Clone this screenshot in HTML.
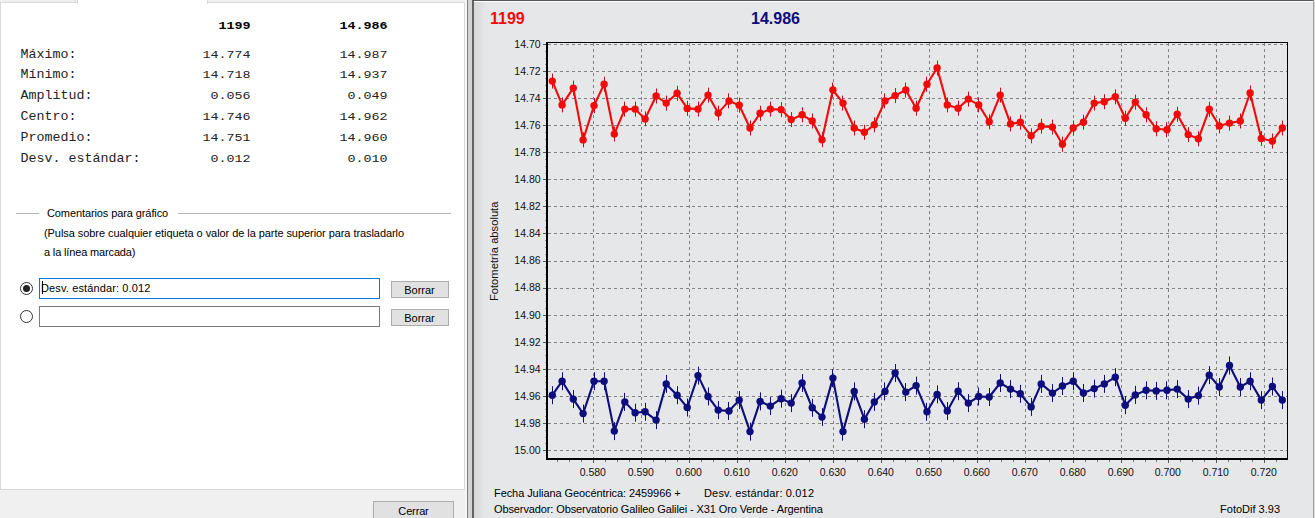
<!DOCTYPE html>
<html lang="es">
<head>
<meta charset="utf-8">
<title>FotoDif 3.93</title>
<style>
html,body{margin:0;padding:0}
body{width:1315px;height:518px;overflow:hidden;background:#f0f0f0;position:relative;font-family:"Liberation Sans",Arial,sans-serif;color:#000}
div,span{box-sizing:border-box}
.abs,.mono,.ui{position:absolute;white-space:nowrap}
.mono{font-family:"Liberation Mono","Courier New",monospace;font-size:13.33px;line-height:16px;color:#222;transform-origin:0 11.5px;transform:scaleY(0.89)}
.b{font-weight:bold;color:#000;transform:scaleY(0.75)}
.v{transform:scaleY(0.84)}
.ui{font-family:"Liberation Sans",Arial,sans-serif;font-size:11px;line-height:14px;color:#000}
.btn{position:absolute;background:#e1e1e1;border:1px solid #adadad;text-align:center;font-size:11px}
</style>
</head>
<body>
<!-- left tab pane -->
<div class="abs" style="left:0;top:2px;width:465px;height:488px;background:#fff;border:1px solid #d9d9d9"></div>
<div class="abs" style="left:77px;top:0;width:131px;height:4px;background:#fff;border-left:1px solid #d9d9d9;border-right:1px solid #d9d9d9"></div>
<div class="abs" style="left:0;top:0;width:76px;height:2px;background:#efefef;border-right:1px solid #dcdcdc"></div>
<div class="mono b" style="left:170.5px;top:17.6px;width:80px;text-align:right">1199</div>
<div class="mono b" style="left:307.5px;top:17.6px;width:80px;text-align:right">14.986</div>
<div class="mono" style="left:20.6px;top:47px">Máximo:</div>
<div class="mono v" style="left:170.5px;top:47px;width:80px;text-align:right">14.774</div>
<div class="mono v" style="left:307.5px;top:47px;width:80px;text-align:right">14.987</div>
<div class="mono" style="left:20.6px;top:67px">Mínimo:</div>
<div class="mono v" style="left:170.5px;top:67px;width:80px;text-align:right">14.718</div>
<div class="mono v" style="left:307.5px;top:67px;width:80px;text-align:right">14.937</div>
<div class="mono" style="left:20.6px;top:87.8px">Amplitud:</div>
<div class="mono v" style="left:170.5px;top:87.8px;width:80px;text-align:right">0.056</div>
<div class="mono v" style="left:307.5px;top:87.8px;width:80px;text-align:right">0.049</div>
<div class="mono" style="left:20.6px;top:108.9px">Centro:</div>
<div class="mono v" style="left:170.5px;top:108.9px;width:80px;text-align:right">14.746</div>
<div class="mono v" style="left:307.5px;top:108.9px;width:80px;text-align:right">14.962</div>
<div class="mono" style="left:20.6px;top:130px">Promedio:</div>
<div class="mono v" style="left:170.5px;top:130px;width:80px;text-align:right">14.751</div>
<div class="mono v" style="left:307.5px;top:130px;width:80px;text-align:right">14.960</div>
<div class="mono" style="left:20.6px;top:150.8px">Desv. estándar:</div>
<div class="mono v" style="left:170.5px;top:150.8px;width:80px;text-align:right">0.012</div>
<div class="mono v" style="left:307.5px;top:150.8px;width:80px;text-align:right">0.010</div>
<!-- group: comentarios -->
<div class="abs" style="left:16px;top:213px;width:23px;height:1px;background:#b4b4b4"></div>
<div class="abs" style="left:178px;top:213px;width:273px;height:1px;background:#b4b4b4"></div>
<div class="ui" id="t1" style="letter-spacing:-0.10px;left:47px;top:206px">Comentarios para gráfico</div>
<div class="ui" id="t2" style="letter-spacing:-0.065px;left:44px;top:226px">(Pulsa sobre cualquier etiqueta o valor de la parte superior para trasladarlo</div>
<div class="ui" id="t3" style="letter-spacing:-0.15px;left:44px;top:245px">a la línea marcada)</div>
<!-- radios -->
<div class="abs" style="left:20px;top:282px;width:13px;height:13px;border-radius:50%;border:1px solid #333;background:#fff"></div>
<div class="abs" style="left:23px;top:285px;width:7px;height:7px;border-radius:50%;background:#222"></div>
<div class="abs" style="left:20px;top:310px;width:13px;height:13px;border-radius:50%;border:1px solid #333;background:#fff"></div>
<!-- inputs -->
<div class="abs" style="left:39px;top:278px;width:341px;height:21px;border:1px solid #0078d7;background:#fff"></div>
<div class="abs" style="left:42px;top:281px;width:1px;height:13px;background:#000"></div>
<div class="ui" id="t4" style="letter-spacing:0.13px;left:41px;top:281px">Desv. estándar: 0.012</div>
<div class="abs" style="left:39px;top:306px;width:341px;height:21px;border:1px solid #7a7a7a;background:#fff"></div>
<!-- buttons -->
<div class="btn ui" style="left:391px;top:281px;width:58px;height:17px;line-height:16px;padding-right:1px">Borrar</div>
<div class="btn ui" style="left:391px;top:309px;width:58px;height:17px;line-height:16px;padding-right:1px">Borrar</div>
<div class="btn ui" style="left:373px;top:501px;width:81px;height:23px;line-height:19px;letter-spacing:-0.15px">Cerrar</div>
<!-- splitter -->
<div class="abs" style="left:465px;top:0;width:2px;height:518px;background:#f6f6f6"></div>
<div class="abs" style="left:467px;top:0;width:1px;height:518px;background:#7c7c7c"></div>
<div class="abs" style="left:468px;top:0;width:4px;height:518px;background:#d3d3d3"></div>
<div class="abs" style="left:472px;top:0;width:2px;height:518px;background:#626262"></div>
<!-- chart panel -->
<div class="abs" style="left:474px;top:0;width:839px;height:518px;background:#e6e7e9"></div>
<div class="abs" style="left:474px;top:0;width:12px;height:518px;background:linear-gradient(to right,#d8d8d8,#e6e7e9)"></div>
<div class="abs" style="left:472px;top:0;width:842px;height:1px;background:#58595b"></div>
<div class="abs" style="left:474px;top:1px;width:839px;height:1px;background:#fff"></div>
<div class="abs" style="left:1313px;top:0;width:1px;height:518px;background:#a2a2a2"></div>
<div class="abs" style="left:1314px;top:0;width:1px;height:518px;background:#dcdcdc"></div>
<svg width="1315" height="518" viewBox="0 0 1315 518" style="position:absolute;left:0;top:0">
<g stroke="#828282" stroke-width="1" stroke-dasharray="3 3" fill="none" shape-rendering="crispEdges">
<line x1="548" y1="44.5" x2="1287" y2="44.5"/>
<line x1="548" y1="71.5" x2="1287" y2="71.5"/>
<line x1="548" y1="98.5" x2="1287" y2="98.5"/>
<line x1="548" y1="125.5" x2="1287" y2="125.5"/>
<line x1="548" y1="152.5" x2="1287" y2="152.5"/>
<line x1="548" y1="179.5" x2="1287" y2="179.5"/>
<line x1="548" y1="206.5" x2="1287" y2="206.5"/>
<line x1="548" y1="233.5" x2="1287" y2="233.5"/>
<line x1="548" y1="261.5" x2="1287" y2="261.5"/>
<line x1="548" y1="288.5" x2="1287" y2="288.5"/>
<line x1="548" y1="315.5" x2="1287" y2="315.5"/>
<line x1="548" y1="342.5" x2="1287" y2="342.5"/>
<line x1="548" y1="369.5" x2="1287" y2="369.5"/>
<line x1="548" y1="396.5" x2="1287" y2="396.5"/>
<line x1="548" y1="423.5" x2="1287" y2="423.5"/>
<line x1="548" y1="450.5" x2="1287" y2="450.5"/>
<line x1="593.5" y1="43" x2="593.5" y2="458"/>
<line x1="641.5" y1="43" x2="641.5" y2="458"/>
<line x1="689.5" y1="43" x2="689.5" y2="458"/>
<line x1="737.5" y1="43" x2="737.5" y2="458"/>
<line x1="785.5" y1="43" x2="785.5" y2="458"/>
<line x1="833.5" y1="43" x2="833.5" y2="458"/>
<line x1="881.5" y1="43" x2="881.5" y2="458"/>
<line x1="929.5" y1="43" x2="929.5" y2="458"/>
<line x1="977.5" y1="43" x2="977.5" y2="458"/>
<line x1="1025.5" y1="43" x2="1025.5" y2="458"/>
<line x1="1073.5" y1="43" x2="1073.5" y2="458"/>
<line x1="1121.5" y1="43" x2="1121.5" y2="458"/>
<line x1="1168.5" y1="43" x2="1168.5" y2="458"/>
<line x1="1216.5" y1="43" x2="1216.5" y2="458"/>
<line x1="1264.5" y1="43" x2="1264.5" y2="458"/>
</g>
<g fill="#000" shape-rendering="crispEdges">
<rect x="546" y="42" width="2" height="418"/>
<rect x="546" y="458" width="742" height="2"/>
<rect x="546" y="42" width="742" height="1"/>
<rect x="1287" y="42" width="1" height="418"/>
</g>
<g stroke="#555" stroke-width="1" shape-rendering="crispEdges">
<line x1="543" y1="44.5" x2="546" y2="44.5"/>
<line x1="543" y1="71.5" x2="546" y2="71.5"/>
<line x1="543" y1="98.5" x2="546" y2="98.5"/>
<line x1="543" y1="125.5" x2="546" y2="125.5"/>
<line x1="543" y1="152.5" x2="546" y2="152.5"/>
<line x1="543" y1="179.5" x2="546" y2="179.5"/>
<line x1="543" y1="206.5" x2="546" y2="206.5"/>
<line x1="543" y1="233.5" x2="546" y2="233.5"/>
<line x1="543" y1="261.5" x2="546" y2="261.5"/>
<line x1="543" y1="288.5" x2="546" y2="288.5"/>
<line x1="543" y1="315.5" x2="546" y2="315.5"/>
<line x1="543" y1="342.5" x2="546" y2="342.5"/>
<line x1="543" y1="369.5" x2="546" y2="369.5"/>
<line x1="543" y1="396.5" x2="546" y2="396.5"/>
<line x1="543" y1="423.5" x2="546" y2="423.5"/>
<line x1="543" y1="450.5" x2="546" y2="450.5"/>
<line x1="545" y1="51.5" x2="546" y2="51.5" stroke="#9a9a9a"/>
<line x1="545" y1="58.5" x2="546" y2="58.5" stroke="#9a9a9a"/>
<line x1="545" y1="64.5" x2="546" y2="64.5" stroke="#9a9a9a"/>
<line x1="545" y1="78.5" x2="546" y2="78.5" stroke="#9a9a9a"/>
<line x1="545" y1="85.5" x2="546" y2="85.5" stroke="#9a9a9a"/>
<line x1="545" y1="91.5" x2="546" y2="91.5" stroke="#9a9a9a"/>
<line x1="545" y1="105.5" x2="546" y2="105.5" stroke="#9a9a9a"/>
<line x1="545" y1="112.5" x2="546" y2="112.5" stroke="#9a9a9a"/>
<line x1="545" y1="118.5" x2="546" y2="118.5" stroke="#9a9a9a"/>
<line x1="545" y1="132.5" x2="546" y2="132.5" stroke="#9a9a9a"/>
<line x1="545" y1="139.5" x2="546" y2="139.5" stroke="#9a9a9a"/>
<line x1="545" y1="146.5" x2="546" y2="146.5" stroke="#9a9a9a"/>
<line x1="545" y1="159.5" x2="546" y2="159.5" stroke="#9a9a9a"/>
<line x1="545" y1="166.5" x2="546" y2="166.5" stroke="#9a9a9a"/>
<line x1="545" y1="173.5" x2="546" y2="173.5" stroke="#9a9a9a"/>
<line x1="545" y1="186.5" x2="546" y2="186.5" stroke="#9a9a9a"/>
<line x1="545" y1="193.5" x2="546" y2="193.5" stroke="#9a9a9a"/>
<line x1="545" y1="200.5" x2="546" y2="200.5" stroke="#9a9a9a"/>
<line x1="545" y1="213.5" x2="546" y2="213.5" stroke="#9a9a9a"/>
<line x1="545" y1="220.5" x2="546" y2="220.5" stroke="#9a9a9a"/>
<line x1="545" y1="227.5" x2="546" y2="227.5" stroke="#9a9a9a"/>
<line x1="545" y1="240.5" x2="546" y2="240.5" stroke="#9a9a9a"/>
<line x1="545" y1="247.5" x2="546" y2="247.5" stroke="#9a9a9a"/>
<line x1="545" y1="254.5" x2="546" y2="254.5" stroke="#9a9a9a"/>
<line x1="545" y1="267.5" x2="546" y2="267.5" stroke="#9a9a9a"/>
<line x1="545" y1="274.5" x2="546" y2="274.5" stroke="#9a9a9a"/>
<line x1="545" y1="281.5" x2="546" y2="281.5" stroke="#9a9a9a"/>
<line x1="545" y1="294.5" x2="546" y2="294.5" stroke="#9a9a9a"/>
<line x1="545" y1="301.5" x2="546" y2="301.5" stroke="#9a9a9a"/>
<line x1="545" y1="308.5" x2="546" y2="308.5" stroke="#9a9a9a"/>
<line x1="545" y1="321.5" x2="546" y2="321.5" stroke="#9a9a9a"/>
<line x1="545" y1="328.5" x2="546" y2="328.5" stroke="#9a9a9a"/>
<line x1="545" y1="335.5" x2="546" y2="335.5" stroke="#9a9a9a"/>
<line x1="545" y1="349.5" x2="546" y2="349.5" stroke="#9a9a9a"/>
<line x1="545" y1="355.5" x2="546" y2="355.5" stroke="#9a9a9a"/>
<line x1="545" y1="362.5" x2="546" y2="362.5" stroke="#9a9a9a"/>
<line x1="545" y1="376.5" x2="546" y2="376.5" stroke="#9a9a9a"/>
<line x1="545" y1="382.5" x2="546" y2="382.5" stroke="#9a9a9a"/>
<line x1="545" y1="389.5" x2="546" y2="389.5" stroke="#9a9a9a"/>
<line x1="545" y1="403.5" x2="546" y2="403.5" stroke="#9a9a9a"/>
<line x1="545" y1="409.5" x2="546" y2="409.5" stroke="#9a9a9a"/>
<line x1="545" y1="416.5" x2="546" y2="416.5" stroke="#9a9a9a"/>
<line x1="545" y1="430.5" x2="546" y2="430.5" stroke="#9a9a9a"/>
<line x1="545" y1="437.5" x2="546" y2="437.5" stroke="#9a9a9a"/>
<line x1="545" y1="443.5" x2="546" y2="443.5" stroke="#9a9a9a"/>
<line x1="557.5" y1="460" x2="557.5" y2="462" stroke="#777"/>
<line x1="569.5" y1="460" x2="569.5" y2="462" stroke="#777"/>
<line x1="581.5" y1="460" x2="581.5" y2="462" stroke="#777"/>
<line x1="593.5" y1="460" x2="593.5" y2="463"/>
<line x1="605.5" y1="460" x2="605.5" y2="462" stroke="#777"/>
<line x1="617.5" y1="460" x2="617.5" y2="462" stroke="#777"/>
<line x1="629.5" y1="460" x2="629.5" y2="462" stroke="#777"/>
<line x1="641.5" y1="460" x2="641.5" y2="463"/>
<line x1="653.5" y1="460" x2="653.5" y2="462" stroke="#777"/>
<line x1="665.5" y1="460" x2="665.5" y2="462" stroke="#777"/>
<line x1="677.5" y1="460" x2="677.5" y2="462" stroke="#777"/>
<line x1="689.5" y1="460" x2="689.5" y2="463"/>
<line x1="701.5" y1="460" x2="701.5" y2="462" stroke="#777"/>
<line x1="713.5" y1="460" x2="713.5" y2="462" stroke="#777"/>
<line x1="725.5" y1="460" x2="725.5" y2="462" stroke="#777"/>
<line x1="737.5" y1="460" x2="737.5" y2="463"/>
<line x1="749.5" y1="460" x2="749.5" y2="462" stroke="#777"/>
<line x1="761.5" y1="460" x2="761.5" y2="462" stroke="#777"/>
<line x1="773.5" y1="460" x2="773.5" y2="462" stroke="#777"/>
<line x1="785.5" y1="460" x2="785.5" y2="463"/>
<line x1="797.5" y1="460" x2="797.5" y2="462" stroke="#777"/>
<line x1="809.5" y1="460" x2="809.5" y2="462" stroke="#777"/>
<line x1="821.5" y1="460" x2="821.5" y2="462" stroke="#777"/>
<line x1="833.5" y1="460" x2="833.5" y2="463"/>
<line x1="845.5" y1="460" x2="845.5" y2="462" stroke="#777"/>
<line x1="857.5" y1="460" x2="857.5" y2="462" stroke="#777"/>
<line x1="869.5" y1="460" x2="869.5" y2="462" stroke="#777"/>
<line x1="881.5" y1="460" x2="881.5" y2="463"/>
<line x1="893.5" y1="460" x2="893.5" y2="462" stroke="#777"/>
<line x1="905.5" y1="460" x2="905.5" y2="462" stroke="#777"/>
<line x1="917.5" y1="460" x2="917.5" y2="462" stroke="#777"/>
<line x1="929.5" y1="460" x2="929.5" y2="463"/>
<line x1="941.5" y1="460" x2="941.5" y2="462" stroke="#777"/>
<line x1="953.5" y1="460" x2="953.5" y2="462" stroke="#777"/>
<line x1="965.5" y1="460" x2="965.5" y2="462" stroke="#777"/>
<line x1="977.5" y1="460" x2="977.5" y2="463"/>
<line x1="989.5" y1="460" x2="989.5" y2="462" stroke="#777"/>
<line x1="1001.5" y1="460" x2="1001.5" y2="462" stroke="#777"/>
<line x1="1013.5" y1="460" x2="1013.5" y2="462" stroke="#777"/>
<line x1="1025.5" y1="460" x2="1025.5" y2="463"/>
<line x1="1037.5" y1="460" x2="1037.5" y2="462" stroke="#777"/>
<line x1="1049.5" y1="460" x2="1049.5" y2="462" stroke="#777"/>
<line x1="1061.5" y1="460" x2="1061.5" y2="462" stroke="#777"/>
<line x1="1073.5" y1="460" x2="1073.5" y2="463"/>
<line x1="1085.5" y1="460" x2="1085.5" y2="462" stroke="#777"/>
<line x1="1097.5" y1="460" x2="1097.5" y2="462" stroke="#777"/>
<line x1="1109.5" y1="460" x2="1109.5" y2="462" stroke="#777"/>
<line x1="1121.5" y1="460" x2="1121.5" y2="463"/>
<line x1="1133.5" y1="460" x2="1133.5" y2="462" stroke="#777"/>
<line x1="1145.5" y1="460" x2="1145.5" y2="462" stroke="#777"/>
<line x1="1156.5" y1="460" x2="1156.5" y2="462" stroke="#777"/>
<line x1="1168.5" y1="460" x2="1168.5" y2="463"/>
<line x1="1180.5" y1="460" x2="1180.5" y2="462" stroke="#777"/>
<line x1="1192.5" y1="460" x2="1192.5" y2="462" stroke="#777"/>
<line x1="1204.5" y1="460" x2="1204.5" y2="462" stroke="#777"/>
<line x1="1216.5" y1="460" x2="1216.5" y2="463"/>
<line x1="1228.5" y1="460" x2="1228.5" y2="462" stroke="#777"/>
<line x1="1240.5" y1="460" x2="1240.5" y2="462" stroke="#777"/>
<line x1="1252.5" y1="460" x2="1252.5" y2="462" stroke="#777"/>
<line x1="1264.5" y1="460" x2="1264.5" y2="463"/>
<line x1="1276.5" y1="460" x2="1276.5" y2="462" stroke="#777"/>
</g>
<g font-family="'Liberation Sans', Arial, sans-serif" font-size="10.5px" fill="#111">
<text x="540.6" y="47.8" text-anchor="end">14.70</text>
<text x="540.6" y="74.9" text-anchor="end">14.72</text>
<text x="540.6" y="101.9" text-anchor="end">14.74</text>
<text x="540.6" y="129.0" text-anchor="end">14.76</text>
<text x="540.6" y="156.1" text-anchor="end">14.78</text>
<text x="540.6" y="183.2" text-anchor="end">14.80</text>
<text x="540.6" y="210.2" text-anchor="end">14.82</text>
<text x="540.6" y="237.3" text-anchor="end">14.84</text>
<text x="540.6" y="264.4" text-anchor="end">14.86</text>
<text x="540.6" y="291.4" text-anchor="end">14.88</text>
<text x="540.6" y="318.5" text-anchor="end">14.90</text>
<text x="540.6" y="345.6" text-anchor="end">14.92</text>
<text x="540.6" y="372.6" text-anchor="end">14.94</text>
<text x="540.6" y="399.7" text-anchor="end">14.96</text>
<text x="540.6" y="426.8" text-anchor="end">14.98</text>
<text x="540.6" y="453.9" text-anchor="end">15.00</text>
<text x="592.8" y="475.7" text-anchor="middle">0.580</text>
<text x="640.8" y="475.7" text-anchor="middle">0.590</text>
<text x="688.8" y="475.7" text-anchor="middle">0.600</text>
<text x="736.8" y="475.7" text-anchor="middle">0.610</text>
<text x="784.8" y="475.7" text-anchor="middle">0.620</text>
<text x="832.8" y="475.7" text-anchor="middle">0.630</text>
<text x="880.8" y="475.7" text-anchor="middle">0.640</text>
<text x="928.8" y="475.7" text-anchor="middle">0.650</text>
<text x="976.8" y="475.7" text-anchor="middle">0.660</text>
<text x="1024.8" y="475.7" text-anchor="middle">0.670</text>
<text x="1072.8" y="475.7" text-anchor="middle">0.680</text>
<text x="1120.8" y="475.7" text-anchor="middle">0.690</text>
<text x="1167.8" y="475.7" text-anchor="middle">0.700</text>
<text x="1215.8" y="475.7" text-anchor="middle">0.710</text>
<text x="1263.8" y="475.7" text-anchor="middle">0.720</text>
</g>
<text transform="translate(498.4,251.3) rotate(-90)" text-anchor="middle" font-family="'Liberation Sans', Arial, sans-serif" font-size="11.2px" fill="#111">Fotometría absoluta</text>
<g stroke="#f20a0a" fill="#f20a0a">
<polyline points="552.3,81.1 562.1,104.9 573.3,88.1 583.1,139.9 594.0,105.6 604.1,84.2 614.3,134.1 624.8,109.1 635.1,109.1 645.1,118.9 656.1,96.0 666.2,103.1 677.1,93.3 687.2,108.4 698.0,109.1 708.0,95.1 718.2,113.1 729.0,100.9 739.2,105.2 750.0,128.0 760.1,113.3 770.3,109.1 781.1,109.6 791.2,119.6 802.1,114.8 812.2,121.0 822.0,139.7 832.9,90.0 843.0,103.1 854.2,128.0 864.4,132.3 874.3,124.8 885.0,100.9 895.1,95.6 905.8,90.0 916.1,108.2 927.0,84.2 937.1,68.0 947.3,104.9 958.1,108.2 968.3,99.1 978.7,104.9 989.2,121.8 1000.2,95.1 1010.5,123.9 1020.3,122.2 1031.1,135.8 1041.2,126.2 1052.4,127.1 1062.4,144.2 1073.2,128.0 1083.4,122.2 1094.2,103.1 1104.3,101.7 1115.3,96.8 1125.3,118.3 1135.3,102.1 1146.1,114.8 1156.2,128.8 1167.0,129.7 1177.2,114.3 1188.2,134.6 1198.4,138.8 1209.2,109.3 1219.3,125.9 1229.5,123.1 1240.3,121.0 1250.1,93.0 1261.3,138.5 1272.4,141.1 1282.3,128.0" fill="none" stroke-width="2.1" stroke-linejoin="round"/>
<path d="M552.5 73.6V88.6M562.5 97.4V112.4M573.5 80.6V95.6M583.5 132.4V147.4M594.5 98.1V113.1M604.5 76.7V91.7M614.5 126.6V141.6M624.5 101.6V116.6M635.5 101.6V116.6M645.5 111.4V126.4M656.5 88.5V103.5M666.5 95.6V110.6M677.5 85.8V100.8M687.5 100.9V115.9M698.5 101.6V116.6M708.5 87.6V102.6M718.5 105.6V120.6M728.5 93.4V108.4M739.5 97.7V112.7M750.5 120.5V135.5M760.5 105.8V120.8M770.5 101.6V116.6M781.5 102.1V117.1M791.5 112.1V127.1M802.5 107.3V122.3M812.5 113.5V128.5M822.5 132.2V147.2M832.5 82.5V97.5M842.5 95.6V110.6M854.5 120.5V135.5M864.5 124.8V139.8M874.5 117.3V132.3M884.5 93.4V108.4M895.5 88.1V103.1M905.5 82.5V97.5M916.5 100.7V115.7M926.5 76.7V91.7M937.5 60.5V75.5M947.5 97.4V112.4M958.5 100.7V115.7M968.5 91.6V106.6M978.5 97.4V112.4M989.5 114.3V129.3M1000.5 87.6V102.6M1010.5 116.4V131.4M1020.5 114.7V129.7M1031.5 128.3V143.3M1041.5 118.7V133.7M1052.5 119.6V134.6M1062.5 136.7V151.7M1073.5 120.5V135.5M1083.5 114.7V129.7M1094.5 95.6V110.6M1104.5 94.2V109.2M1115.5 89.3V104.3M1125.5 110.8V125.8M1135.5 94.6V109.6M1146.5 107.3V122.3M1156.5 121.3V136.3M1166.5 122.2V137.2M1177.5 106.8V121.8M1188.5 127.1V142.1M1198.5 131.3V146.3M1209.5 101.8V116.8M1219.5 118.4V133.4M1229.5 115.6V130.6M1240.5 113.5V128.5M1250.5 85.5V100.5M1261.5 131.0V146.0M1272.5 133.6V148.6M1282.5 120.5V135.5" stroke="#c41212" stroke-width="1" fill="none"/>
<circle cx="552.3" cy="81.1" r="3.7" stroke="none"/>
<circle cx="562.1" cy="104.9" r="3.7" stroke="none"/>
<circle cx="573.3" cy="88.1" r="3.7" stroke="none"/>
<circle cx="583.1" cy="139.9" r="3.7" stroke="none"/>
<circle cx="594.0" cy="105.6" r="3.7" stroke="none"/>
<circle cx="604.1" cy="84.2" r="3.7" stroke="none"/>
<circle cx="614.3" cy="134.1" r="3.7" stroke="none"/>
<circle cx="624.8" cy="109.1" r="3.7" stroke="none"/>
<circle cx="635.1" cy="109.1" r="3.7" stroke="none"/>
<circle cx="645.1" cy="118.9" r="3.7" stroke="none"/>
<circle cx="656.1" cy="96.0" r="3.7" stroke="none"/>
<circle cx="666.2" cy="103.1" r="3.7" stroke="none"/>
<circle cx="677.1" cy="93.3" r="3.7" stroke="none"/>
<circle cx="687.2" cy="108.4" r="3.7" stroke="none"/>
<circle cx="698.0" cy="109.1" r="3.7" stroke="none"/>
<circle cx="708.0" cy="95.1" r="3.7" stroke="none"/>
<circle cx="718.2" cy="113.1" r="3.7" stroke="none"/>
<circle cx="729.0" cy="100.9" r="3.7" stroke="none"/>
<circle cx="739.2" cy="105.2" r="3.7" stroke="none"/>
<circle cx="750.0" cy="128.0" r="3.7" stroke="none"/>
<circle cx="760.1" cy="113.3" r="3.7" stroke="none"/>
<circle cx="770.3" cy="109.1" r="3.7" stroke="none"/>
<circle cx="781.1" cy="109.6" r="3.7" stroke="none"/>
<circle cx="791.2" cy="119.6" r="3.7" stroke="none"/>
<circle cx="802.1" cy="114.8" r="3.7" stroke="none"/>
<circle cx="812.2" cy="121.0" r="3.7" stroke="none"/>
<circle cx="822.0" cy="139.7" r="3.7" stroke="none"/>
<circle cx="832.9" cy="90.0" r="3.7" stroke="none"/>
<circle cx="843.0" cy="103.1" r="3.7" stroke="none"/>
<circle cx="854.2" cy="128.0" r="3.7" stroke="none"/>
<circle cx="864.4" cy="132.3" r="3.7" stroke="none"/>
<circle cx="874.3" cy="124.8" r="3.7" stroke="none"/>
<circle cx="885.0" cy="100.9" r="3.7" stroke="none"/>
<circle cx="895.1" cy="95.6" r="3.7" stroke="none"/>
<circle cx="905.8" cy="90.0" r="3.7" stroke="none"/>
<circle cx="916.1" cy="108.2" r="3.7" stroke="none"/>
<circle cx="927.0" cy="84.2" r="3.7" stroke="none"/>
<circle cx="937.1" cy="68.0" r="3.7" stroke="none"/>
<circle cx="947.3" cy="104.9" r="3.7" stroke="none"/>
<circle cx="958.1" cy="108.2" r="3.7" stroke="none"/>
<circle cx="968.3" cy="99.1" r="3.7" stroke="none"/>
<circle cx="978.7" cy="104.9" r="3.7" stroke="none"/>
<circle cx="989.2" cy="121.8" r="3.7" stroke="none"/>
<circle cx="1000.2" cy="95.1" r="3.7" stroke="none"/>
<circle cx="1010.5" cy="123.9" r="3.7" stroke="none"/>
<circle cx="1020.3" cy="122.2" r="3.7" stroke="none"/>
<circle cx="1031.1" cy="135.8" r="3.7" stroke="none"/>
<circle cx="1041.2" cy="126.2" r="3.7" stroke="none"/>
<circle cx="1052.4" cy="127.1" r="3.7" stroke="none"/>
<circle cx="1062.4" cy="144.2" r="3.7" stroke="none"/>
<circle cx="1073.2" cy="128.0" r="3.7" stroke="none"/>
<circle cx="1083.4" cy="122.2" r="3.7" stroke="none"/>
<circle cx="1094.2" cy="103.1" r="3.7" stroke="none"/>
<circle cx="1104.3" cy="101.7" r="3.7" stroke="none"/>
<circle cx="1115.3" cy="96.8" r="3.7" stroke="none"/>
<circle cx="1125.3" cy="118.3" r="3.7" stroke="none"/>
<circle cx="1135.3" cy="102.1" r="3.7" stroke="none"/>
<circle cx="1146.1" cy="114.8" r="3.7" stroke="none"/>
<circle cx="1156.2" cy="128.8" r="3.7" stroke="none"/>
<circle cx="1167.0" cy="129.7" r="3.7" stroke="none"/>
<circle cx="1177.2" cy="114.3" r="3.7" stroke="none"/>
<circle cx="1188.2" cy="134.6" r="3.7" stroke="none"/>
<circle cx="1198.4" cy="138.8" r="3.7" stroke="none"/>
<circle cx="1209.2" cy="109.3" r="3.7" stroke="none"/>
<circle cx="1219.3" cy="125.9" r="3.7" stroke="none"/>
<circle cx="1229.5" cy="123.1" r="3.7" stroke="none"/>
<circle cx="1240.3" cy="121.0" r="3.7" stroke="none"/>
<circle cx="1250.1" cy="93.0" r="3.7" stroke="none"/>
<circle cx="1261.3" cy="138.5" r="3.7" stroke="none"/>
<circle cx="1272.4" cy="141.1" r="3.7" stroke="none"/>
<circle cx="1282.3" cy="128.0" r="3.7" stroke="none"/>
</g>
<g stroke="#0d0d7c" fill="#0d0d7c">
<polyline points="552.3,395.2 562.1,381.2 573.3,399.1 583.1,413.6 594.0,381.2 604.1,381.2 614.3,431.1 624.8,401.9 635.1,412.7 645.1,411.8 656.1,420.1 666.2,383.9 677.1,395.2 687.2,407.5 698.0,375.6 708.0,396.5 718.2,410.1 729.0,411.0 739.2,400.1 750.0,431.6 760.1,401.4 770.3,406.1 781.1,398.7 791.2,403.1 802.1,383.0 812.2,407.8 822.0,417.1 832.9,378.1 843.0,431.6 854.2,391.4 864.4,419.2 874.3,401.9 885.0,391.4 895.1,373.0 905.8,392.1 916.1,385.6 927.0,411.8 937.1,394.4 947.3,411.0 958.1,391.2 968.3,403.1 978.7,396.5 989.2,397.0 1000.2,383.0 1010.5,389.1 1020.3,393.8 1031.1,406.9 1041.2,383.9 1052.4,393.1 1062.4,386.0 1073.2,381.2 1083.4,393.0 1094.2,388.6 1104.3,383.9 1115.3,377.2 1125.3,405.2 1135.3,394.9 1146.1,390.3 1156.2,390.9 1167.0,390.3 1177.2,389.1 1188.2,399.1 1198.4,395.6 1209.2,375.1 1219.3,387.0 1229.5,365.5 1240.3,387.0 1250.1,381.2 1261.3,400.1 1272.4,386.5 1282.3,400.1" fill="none" stroke-width="2.1" stroke-linejoin="round"/>
<path d="M552.5 386.2V404.2M562.5 372.2V390.2M573.5 390.1V408.1M583.5 404.6V422.6M594.5 372.2V390.2M604.5 372.2V390.2M614.5 422.1V440.1M624.5 392.9V410.9M635.5 403.7V421.7M645.5 402.8V420.8M656.5 411.1V429.1M666.5 374.9V392.9M677.5 386.2V404.2M687.5 398.5V416.5M698.5 366.6V384.6M708.5 387.5V405.5M718.5 401.1V419.1M728.5 402.0V420.0M739.5 391.1V409.1M750.5 422.6V440.6M760.5 392.4V410.4M770.5 397.1V415.1M781.5 389.7V407.7M791.5 394.1V412.1M802.5 374.0V392.0M812.5 398.8V416.8M822.5 408.1V426.1M832.5 369.1V387.1M842.5 422.6V440.6M854.5 382.4V400.4M864.5 410.2V428.2M874.5 392.9V410.9M884.5 382.4V400.4M895.5 364.0V382.0M905.5 383.1V401.1M916.5 376.6V394.6M926.5 402.8V420.8M937.5 385.4V403.4M947.5 402.0V420.0M958.5 382.2V400.2M968.5 394.1V412.1M978.5 387.5V405.5M989.5 388.0V406.0M1000.5 374.0V392.0M1010.5 380.1V398.1M1020.5 384.8V402.8M1031.5 397.9V415.9M1041.5 374.9V392.9M1052.5 384.1V402.1M1062.5 377.0V395.0M1073.5 372.2V390.2M1083.5 384.0V402.0M1094.5 379.6V397.6M1104.5 374.9V392.9M1115.5 368.2V386.2M1125.5 396.2V414.2M1135.5 385.9V403.9M1146.5 381.3V399.3M1156.5 381.9V399.9M1166.5 381.3V399.3M1177.5 380.1V398.1M1188.5 390.1V408.1M1198.5 386.6V404.6M1209.5 366.1V384.1M1219.5 378.0V396.0M1229.5 356.5V374.5M1240.5 378.0V396.0M1250.5 372.2V390.2M1261.5 391.1V409.1M1272.5 377.5V395.5M1282.5 391.1V409.1" stroke="#0d0d7c" stroke-width="1" fill="none"/>
<circle cx="552.3" cy="395.2" r="3.7" stroke="none"/>
<circle cx="562.1" cy="381.2" r="3.7" stroke="none"/>
<circle cx="573.3" cy="399.1" r="3.7" stroke="none"/>
<circle cx="583.1" cy="413.6" r="3.7" stroke="none"/>
<circle cx="594.0" cy="381.2" r="3.7" stroke="none"/>
<circle cx="604.1" cy="381.2" r="3.7" stroke="none"/>
<circle cx="614.3" cy="431.1" r="3.7" stroke="none"/>
<circle cx="624.8" cy="401.9" r="3.7" stroke="none"/>
<circle cx="635.1" cy="412.7" r="3.7" stroke="none"/>
<circle cx="645.1" cy="411.8" r="3.7" stroke="none"/>
<circle cx="656.1" cy="420.1" r="3.7" stroke="none"/>
<circle cx="666.2" cy="383.9" r="3.7" stroke="none"/>
<circle cx="677.1" cy="395.2" r="3.7" stroke="none"/>
<circle cx="687.2" cy="407.5" r="3.7" stroke="none"/>
<circle cx="698.0" cy="375.6" r="3.7" stroke="none"/>
<circle cx="708.0" cy="396.5" r="3.7" stroke="none"/>
<circle cx="718.2" cy="410.1" r="3.7" stroke="none"/>
<circle cx="729.0" cy="411.0" r="3.7" stroke="none"/>
<circle cx="739.2" cy="400.1" r="3.7" stroke="none"/>
<circle cx="750.0" cy="431.6" r="3.7" stroke="none"/>
<circle cx="760.1" cy="401.4" r="3.7" stroke="none"/>
<circle cx="770.3" cy="406.1" r="3.7" stroke="none"/>
<circle cx="781.1" cy="398.7" r="3.7" stroke="none"/>
<circle cx="791.2" cy="403.1" r="3.7" stroke="none"/>
<circle cx="802.1" cy="383.0" r="3.7" stroke="none"/>
<circle cx="812.2" cy="407.8" r="3.7" stroke="none"/>
<circle cx="822.0" cy="417.1" r="3.7" stroke="none"/>
<circle cx="832.9" cy="378.1" r="3.7" stroke="none"/>
<circle cx="843.0" cy="431.6" r="3.7" stroke="none"/>
<circle cx="854.2" cy="391.4" r="3.7" stroke="none"/>
<circle cx="864.4" cy="419.2" r="3.7" stroke="none"/>
<circle cx="874.3" cy="401.9" r="3.7" stroke="none"/>
<circle cx="885.0" cy="391.4" r="3.7" stroke="none"/>
<circle cx="895.1" cy="373.0" r="3.7" stroke="none"/>
<circle cx="905.8" cy="392.1" r="3.7" stroke="none"/>
<circle cx="916.1" cy="385.6" r="3.7" stroke="none"/>
<circle cx="927.0" cy="411.8" r="3.7" stroke="none"/>
<circle cx="937.1" cy="394.4" r="3.7" stroke="none"/>
<circle cx="947.3" cy="411.0" r="3.7" stroke="none"/>
<circle cx="958.1" cy="391.2" r="3.7" stroke="none"/>
<circle cx="968.3" cy="403.1" r="3.7" stroke="none"/>
<circle cx="978.7" cy="396.5" r="3.7" stroke="none"/>
<circle cx="989.2" cy="397.0" r="3.7" stroke="none"/>
<circle cx="1000.2" cy="383.0" r="3.7" stroke="none"/>
<circle cx="1010.5" cy="389.1" r="3.7" stroke="none"/>
<circle cx="1020.3" cy="393.8" r="3.7" stroke="none"/>
<circle cx="1031.1" cy="406.9" r="3.7" stroke="none"/>
<circle cx="1041.2" cy="383.9" r="3.7" stroke="none"/>
<circle cx="1052.4" cy="393.1" r="3.7" stroke="none"/>
<circle cx="1062.4" cy="386.0" r="3.7" stroke="none"/>
<circle cx="1073.2" cy="381.2" r="3.7" stroke="none"/>
<circle cx="1083.4" cy="393.0" r="3.7" stroke="none"/>
<circle cx="1094.2" cy="388.6" r="3.7" stroke="none"/>
<circle cx="1104.3" cy="383.9" r="3.7" stroke="none"/>
<circle cx="1115.3" cy="377.2" r="3.7" stroke="none"/>
<circle cx="1125.3" cy="405.2" r="3.7" stroke="none"/>
<circle cx="1135.3" cy="394.9" r="3.7" stroke="none"/>
<circle cx="1146.1" cy="390.3" r="3.7" stroke="none"/>
<circle cx="1156.2" cy="390.9" r="3.7" stroke="none"/>
<circle cx="1167.0" cy="390.3" r="3.7" stroke="none"/>
<circle cx="1177.2" cy="389.1" r="3.7" stroke="none"/>
<circle cx="1188.2" cy="399.1" r="3.7" stroke="none"/>
<circle cx="1198.4" cy="395.6" r="3.7" stroke="none"/>
<circle cx="1209.2" cy="375.1" r="3.7" stroke="none"/>
<circle cx="1219.3" cy="387.0" r="3.7" stroke="none"/>
<circle cx="1229.5" cy="365.5" r="3.7" stroke="none"/>
<circle cx="1240.3" cy="387.0" r="3.7" stroke="none"/>
<circle cx="1250.1" cy="381.2" r="3.7" stroke="none"/>
<circle cx="1261.3" cy="400.1" r="3.7" stroke="none"/>
<circle cx="1272.4" cy="386.5" r="3.7" stroke="none"/>
<circle cx="1282.3" cy="400.1" r="3.7" stroke="none"/>
</g>
</svg>
<div class="abs" id="h1" style="left:490px;top:10px;font-weight:bold;font-size:16px;line-height:18px;color:#f20a0a">1199</div>
<div class="abs" id="h2" style="left:751px;top:10px;font-weight:bold;font-size:16px;line-height:18px;color:#0d0d7c">14.986</div>
<div class="ui" id="f1" style="letter-spacing:-0.075px;left:494px;top:486px">Fecha Juliana Geocéntrica: 2459966 +</div>
<div class="ui" id="f2" style="letter-spacing:0.16px;left:704px;top:486px">Desv. estándar: 0.012</div>
<div class="ui" id="f3" style="letter-spacing:-0.11px;left:494px;top:502px">Observador: Observatorio Galileo Galilei - X31 Oro Verde - Argentina</div>
<div class="ui" id="f4" style="right:35px;top:502px">FotoDif 3.93</div>
</body>
</html>
